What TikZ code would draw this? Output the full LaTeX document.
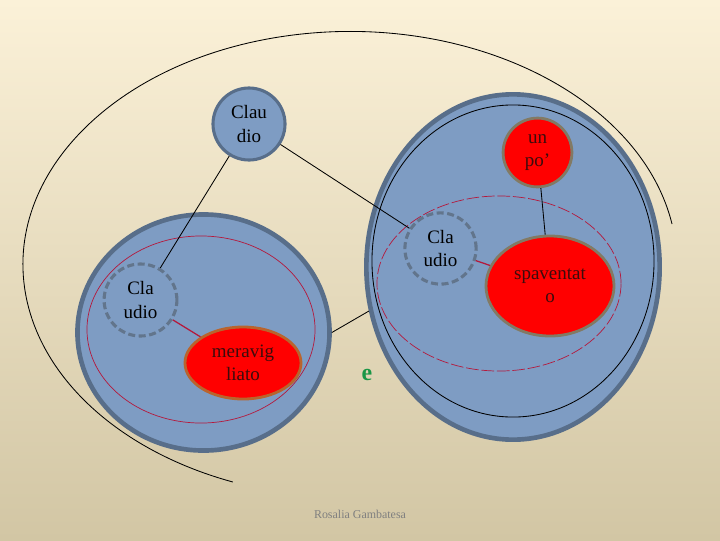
\documentclass[tikz,border=0pt]{standalone}
\usepackage{fontspec}
\setmainfont{Liberation Serif}
\usetikzlibrary{shapes.geometric}
\definecolor{bgtop}{RGB}{251,241,216}
\definecolor{bgmid}{RGB}{245,236,212}
\definecolor{bgbot}{RGB}{210,198,164}
\definecolor{bluefill}{RGB}{126,156,195}
\definecolor{blueedge}{RGB}{88,110,138}
\definecolor{dashedge}{RGB}{98,117,140}
\definecolor{olivedge}{RGB}{130,122,100}
\definecolor{rustedge}{RGB}{185,100,45}
\definecolor{ringred}{RGB}{180,25,60}
\definecolor{feeltext}{RGB}{60,12,12}
\definecolor{egreen}{RGB}{25,150,70}
\tikzset{
  bigset/.style={ellipse, draw=blueedge, fill=bluefill, line width=3.3pt, inner sep=0pt},
  ring/.style={ellipse, draw=#1, inner sep=0pt},
  person/.style={ellipse, draw=blueedge, fill=bluefill, line width=2.2pt, inner sep=0pt,
    align=center, font=\fontsize{13.5}{16.5}\selectfont},
  shadow person/.style={person, draw=dashedge, dash pattern=on 5pt off 2.5pt},
  feeling/.style={ellipse, draw=olivedge, fill=red, line width=2pt, inner sep=0pt,
    align=center, text=feeltext, font=\fontsize{13.5}{16.5}\selectfont},
  link/.style={line width=0.6pt},
  redlink/.style={line width=0.9pt, draw=ringred}
}

\begin{document}
\begin{tikzpicture}[x=0.025cm, y=-0.025cm]
\useasboundingbox (0,0) rectangle (720,540);
\shade[top color=bgtop, middle color=bgmid, bottom color=bgbot] (0,0) rectangle (720,540);
% outer arc
\coordinate (arcstart) at (672,224);
\draw[line width=0.6pt] (arcstart) arc[start angle=-10, end angle=-249, x radius=327, y radius=233];
% left set
\node[bigset, minimum width=6.3cm, minimum height=5.9cm] (setL) at (203.5,332.5) {};
\node[ring=ringred, line width=0.5pt, minimum width=5.7cm, minimum height=4.675cm] (redL) at (201,329.5) {};
\node[shadow person, minimum width=1.82cm, minimum height=1.8cm] (claudioL) at (140.5,300) {Cla\\udio};
\node[feeling, draw=rustedge, minimum width=2.9cm, minimum height=1.8cm] (meraviglia) at (243,363) {meravig\\liato};
% right set
\node[bigset, minimum width=7.33cm, minimum height=8.63cm] (setR) at (513,267) {};
\node[ring=black, line width=0.6pt, minimum width=7.05cm, minimum height=7.8cm] (ringR) at (513,261) {};
\node[ring=ringred, line width=0.5pt, dash pattern=on 9pt off 2pt, minimum width=6.1cm, minimum height=4.375cm] (redR) at (499,283.5) {};
\node[feeling, minimum width=1.72cm, minimum height=1.72cm] (unpo) at (537.5,152.5) {un\\po’};
\node[feeling, minimum width=3.2cm, minimum height=2.5cm] (spavento) at (550,286) {spaventat\\o};
\node[shadow person, minimum width=1.78cm, minimum height=1.78cm] (claudioR) at (440.5,248.5) {Cla\\udio};
% top
\node[person, minimum width=1.8cm, minimum height=1.8cm] (claudio) at (249,124) {Clau\\dio};
\node[text=egreen, font=\fontsize{17}{17}\selectfont\bfseries] (e) at (367,375) {e};
\node[text=black!50, font=\fontsize{8.5}{10}\selectfont] (author) at (360,514) {Rosalia Gambatesa};
\draw[link] (claudio) to (claudioL);
\draw[link] (claudio) to (claudioR);
\draw[link] (unpo) to (spavento);
\draw[link] (setL.east) to (setR.197);
\draw[redlink] (claudioL) to (meraviglia);
\draw[redlink] (claudioR) to (spavento);
\end{tikzpicture}
\end{document}
